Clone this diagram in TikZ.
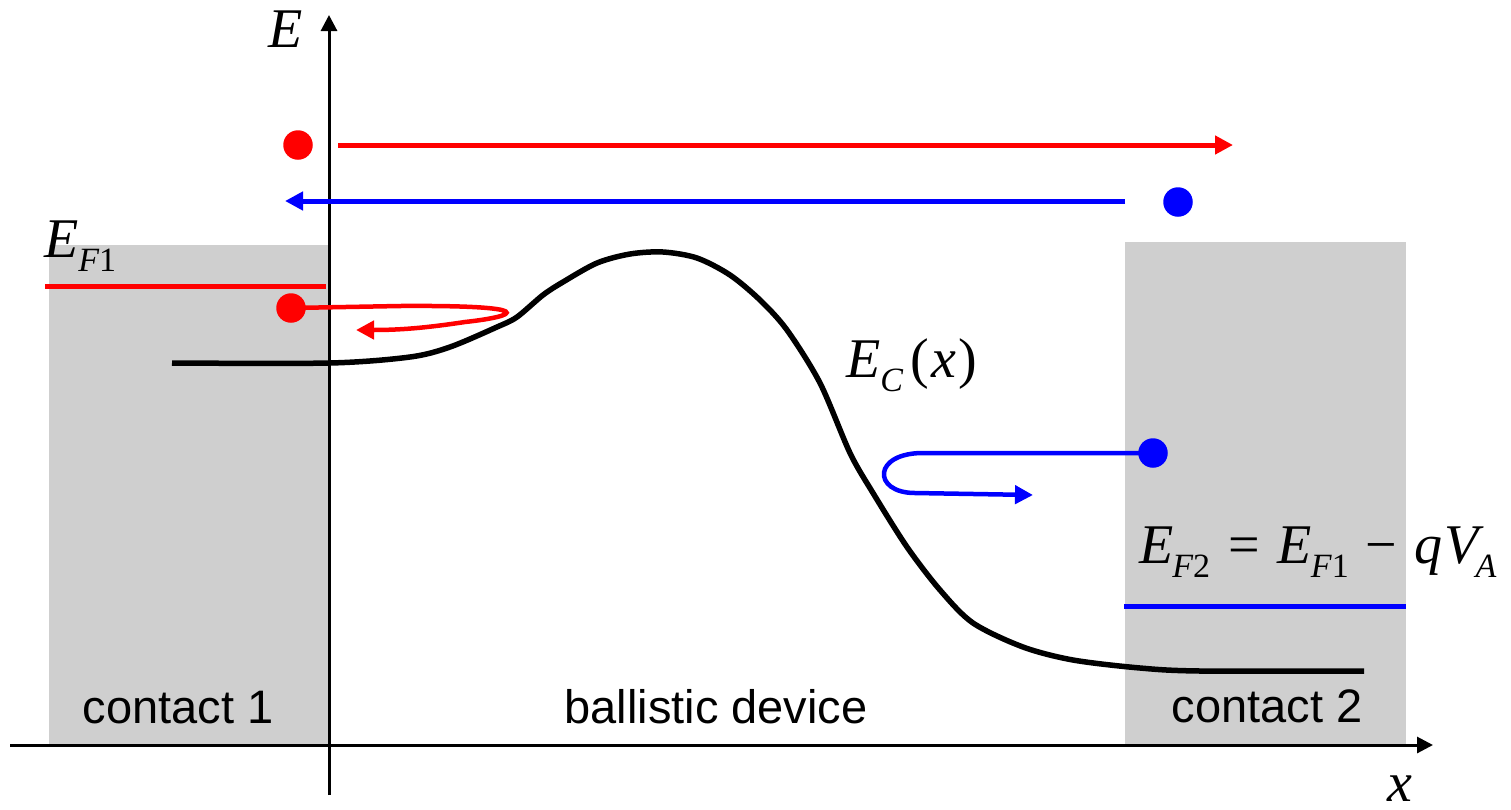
\documentclass[tikz,border=0pt]{standalone}
\usepackage{fontspec}
\setmainfont{Liberation Sans}
\newfontfamily\tms{Liberation Serif}
\usetikzlibrary{arrows.meta}
\definecolor{contactgray}{RGB}{207,207,207}
\newcommand\subsc[1]{\raisebox{-14.5pt}{\fontsize{34}{36}\selectfont #1}}
\tikzset{
  contactbox/.style={fill=contactgray, draw=none},
  axisline/.style={line width=3pt, -{Triangle[length=16pt,width=16pt]}},
  bandline/.style={line width=5.5pt, line cap=butt},
  redline/.style={draw=red, line width=5pt},
  blueline/.style={draw=blue, line width=5pt},
  tiparrow/.style={-{Triangle[length=18pt,width=18pt]}},
  reddot/.style={circle, fill=red, minimum size=29.5pt, inner sep=0pt},
  bluedot/.style={circle, fill=blue, minimum size=29.5pt, inner sep=0pt},
  mathlbl/.style={font=\tms\fontsize{56}{60}\selectfont, inner sep=0pt, anchor=base west},
  sanslbl/.style={font=\fontsize{47}{50}\selectfont, inner sep=0pt, anchor=base},
}
\begin{document}
\begin{tikzpicture}[x=1pt, y=-1pt]
\useasboundingbox (0,0) rectangle (1511,809);
% contacts
\fill[contactbox] (49,245) rectangle (328,745);
\fill[contactbox] (1125,242) rectangle (1406,745);
% axes
\coordinate (xs) at (10,745);
\coordinate (xe) at (1433,745);
\coordinate (ys) at (329,795);
\coordinate (ye) at (329,15);
\draw[axisline] (xs) -- (xe);
\draw[axisline] (ys) -- (ye);
% conduction band
\draw[bandline] plot[smooth, tension=0.5] coordinates {
 (172,363) (330,363) (410,357) (450,347) (497,327) (517,317) (543,295)
 (563,282) (597,263) (630,254) (663,252) (697,258) (730,275) (760,300)
 (787,330) (820,383) (850,453) (873,493) (907,547) (940,590) (973,623)
 (1023,647) (1073,660) (1140,668) (1200,671) (1364,671)};
% Fermi levels
\coordinate (ef1a) at (45,286);
\coordinate (ef1b) at (326,286);
\draw[redline] (ef1a) -- (ef1b);
\coordinate (ef2a) at (1124,606);
\coordinate (ef2b) at (1406,606);
\draw[blueline] (ef2a) -- (ef2b);
% dots
\node[reddot] (rd1) at (298,145) {};
\node[bluedot] (bd1) at (1178,202) {};
\node[reddot] (rd2) at (291,308) {};
\node[bluedot] (bd2) at (1153,453) {};
% top transmitted arrows
\coordinate (r1s) at (338,145);
\coordinate (r1e) at (1233,145);
\draw[redline, tiparrow] (r1s) -- (r1e);
\coordinate (b1s) at (1125,201);
\coordinate (b1e) at (285,201);
\draw[blueline, tiparrow] (b1s) -- (b1e);
% reflected red
\coordinate (r2e) at (356,330);
\draw[draw=red, line width=4.5pt, tiparrow] (rd2.center) -- (400,306)
  .. controls (540,305) and (520,316) .. (465,322)
  .. controls (425,328) and (400,330) .. (r2e);
% reflected blue
\coordinate (b2e) at (1033,495);
\draw[draw=blue, line width=4.5pt, tiparrow] (bd2.center) -- (925,453)
  .. controls (872,452) and (872,493) .. (915,493) -- (b2e);
% labels
\node[mathlbl] (Elab) at (268,47) {\itshape E};
\node[mathlbl] (xlab) at (1387,801) {\itshape x};
\node[mathlbl] (ef1lab) at (44,257) {\itshape E\subsc{F\upshape 1}};
\node[mathlbl] (eclab) at (846,377) {\itshape E\subsc{C}\kern7pt\upshape(\kern3pt\itshape x\kern2pt\upshape)};
\node[mathlbl] (ef2lab) at (1139,563) {\itshape E\kern-1pt\subsc{F\upshape 2}\hspace{18pt}\upshape=\hspace{18pt}\itshape E\kern-1pt\subsc{F\upshape 1}\hspace{17pt}\upshape−\hspace{17pt}\itshape q\kern2pt V\kern-3pt\subsc{A}};
\node[sanslbl] (c1) at (178,723) {contact 1};
\node[sanslbl] (bd) at (716,723) {ballistic device};
\node[sanslbl] (c2) at (1267,722) {contact 2};
\end{tikzpicture}
\end{document}
